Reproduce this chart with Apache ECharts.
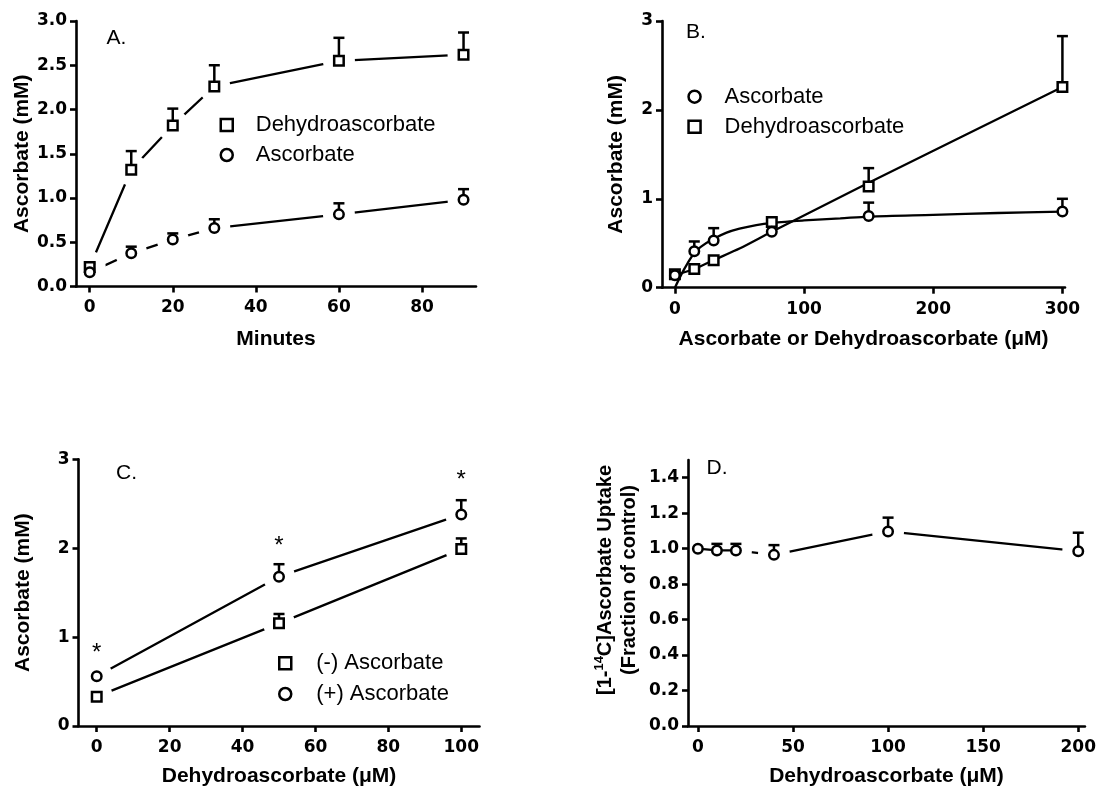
<!DOCTYPE html>
<html>
<head>
<meta charset="utf-8">
<script src="https://cdn.jsdelivr.net/npm/echarts@6/dist/echarts.min.js"></script>
<style>html,body{margin:0;padding:0;background:#fff}#c{width:1099px;height:791px}</style>
</head>
<body>
<div id="c"></div>
<script>
// ---------- Panel A: time course ----------
const A_minutes = [0, 10, 20, 30, 60, 90];
const A_dha = [0.22, 1.32, 1.82, 2.26, 2.55, 2.62];
const A_dhaErr = [0.26, 1.53, 2.01, 2.50, 2.81, 2.87];
const A_asc = [0.16, 0.375, 0.53, 0.66, 0.815, 0.98];
const A_ascErr = [0.20, 0.45, 0.60, 0.76, 0.94, 1.10];
const A_xTicks = [0, 20, 40, 60, 80];
const A_yTicks = [0, 0.5, 1.0, 1.5, 2.0, 2.5, 3.0];

// ---------- Panel B: concentration dependence ----------
const B_conc = [0, 15, 30, 75, 150, 300];
const B_asc = [0.14, 0.41, 0.53, 0.63, 0.807, 0.856];
const B_ascErr = [0.14, 0.52, 0.67, 0.63, 0.957, 1.0];
const B_dha = [0.15, 0.21, 0.31, 0.74, 1.137, 2.257];
const B_dhaErr = [0.15, 0.21, 0.31, 0.78, 1.345, 2.83];
// fitted curves
const B_ascFitX = [0, 5, 10, 15, 20, 30, 40, 50, 63, 76, 89, 100, 128, 150, 200, 250, 300];
const B_ascFitY = [0, 0.15, 0.28, 0.39, 0.46, 0.55, 0.62, 0.665, 0.705, 0.73, 0.745, 0.757, 0.78, 0.80, 0.82, 0.84, 0.856];
const B_dhaFitX = [0, 15, 30, 50, 75, 150, 300];
const B_dhaFitY = [0.14, 0.21, 0.31, 0.44, 0.63, 1.18, 2.257];
const B_xTicks = [0, 100, 200, 300];
const B_yTicks = [0, 1, 2, 3];

// ---------- Panel C ----------
const C_dha = [0, 50, 100];
const C_minus = [0.33, 1.155, 1.99];
const C_minusErr = [0.33, 1.26, 2.11];
const C_plus = [0.56, 1.68, 2.38];
const C_plusErr = [0.56, 1.82, 2.54];
const C_star = [0.87, 2.08, 2.82];
const C_xTicks = [0, 20, 40, 60, 80, 100];
const C_yTicks = [0, 1, 2, 3];

// ---------- Panel D ----------
const D_dha = [0, 10, 20, 40, 100, 200];
const D_uptake = [1.0, 0.99, 0.99, 0.965, 1.097, 0.986];
const D_uptakeErr = [1.0, 1.027, 1.027, 1.02, 1.175, 1.09];
const D_xTicks = [0, 50, 100, 150, 200];
const D_yTicks = [0, 0.2, 0.4, 0.6, 0.8, 1.0, 1.2, 1.4];

const BLACK = '#000';
const TICKFONT = 'DejaVu Sans';
const TEXTFONT = 'Liberation Sans, Arial, sans-serif';
const AXW = 2.6;

function pairs(xs, ys) { return xs.map((x, i) => [x, ys[i]]); }
function triples(xs, ys, es) { return xs.map((x, i) => [x, ys[i], es[i]]); }

function xAxis(gi, min, max, ticks, name, gap) {
  return {
    type: 'value', gridIndex: gi, min: min, max: max, z: 5,
    name: name, nameLocation: 'middle', nameGap: gap,
    nameTextStyle: { fontFamily: TEXTFONT, fontWeight: 'bold', fontSize: 21, color: BLACK },
    axisLine: { show: true, onZero: false, lineStyle: { color: BLACK, width: AXW } },
    axisTick: { show: true, length: 6, customValues: ticks, lineStyle: { color: BLACK, width: AXW } },
    axisLabel: { customValues: ticks, margin: 13, fontFamily: TICKFONT, fontWeight: 'bold', fontSize: 17, color: BLACK },
    splitLine: { show: false }
  };
}
function yAxis(gi, min, max, ticks, name, gap, fmt, nameStyle) {
  return {
    type: 'value', gridIndex: gi, min: min, max: max, z: 5,
    name: name, nameLocation: 'middle', nameGap: gap,
    nameTextStyle: nameStyle || { fontFamily: TEXTFONT, fontWeight: 'bold', fontSize: 21, color: BLACK },
    axisLine: { show: true, onZero: false, lineStyle: { color: BLACK, width: AXW } },
    axisTick: { show: true, length: 6, customValues: ticks, lineStyle: { color: BLACK, width: AXW } },
    axisLabel: { customValues: ticks, margin: 9, fontFamily: TICKFONT, fontWeight: 'bold', fontSize: 17, color: BLACK,
      formatter: fmt || (v => String(v)) },
    splitLine: { show: false }
  };
}

function lineSeries(gi, data, smooth, z) {
  return { type: 'line', xAxisIndex: gi, yAxisIndex: gi, data: data, showSymbol: false, symbol: 'none',
    smooth: smooth || false, lineStyle: { color: BLACK, width: 2.3 }, z: z || 2, silent: true, animation: false };
}
function haloSeries(gi, data) {
  return { type: 'scatter', xAxisIndex: gi, yAxisIndex: gi, data: data, symbol: 'circle', symbolSize: 32,
    itemStyle: { color: '#fff', borderWidth: 0, opacity: 1 }, z: 3, silent: true, animation: false };
}
function errSeries(gi, data) {
  return { type: 'custom', xAxisIndex: gi, yAxisIndex: gi, data: data, z: 4, silent: true, animation: false,
    encode: { x: 0, y: [1, 2] },
    renderItem: function (params, api) {
      const x = api.value(0), y = api.value(1), t = api.value(2);
      if (!(t > y)) return null;
      const p = api.coord([x, y]), q = api.coord([x, t]);
      return { type: 'group', children: [
        { type: 'line', shape: { x1: p[0], y1: p[1], x2: q[0], y2: q[1] }, style: { stroke: BLACK, lineWidth: 2.5 } },
        { type: 'line', shape: { x1: q[0] - 5.5, y1: q[1], x2: q[0] + 5.5, y2: q[1] }, style: { stroke: BLACK, lineWidth: 2.5 } }
      ] };
    } };
}
function markSeries(gi, name, data, symbol) {
  return { type: 'scatter', name: name, xAxisIndex: gi, yAxisIndex: gi, data: data, symbol: symbol, symbolSize: 9.5,
    itemStyle: { color: '#fff', borderColor: BLACK, borderWidth: 2.5, opacity: 1 }, z: 6, animation: false };
}

const series = [
  // A
  lineSeries(0, pairs(A_minutes, A_dha)),
  lineSeries(0, pairs(A_minutes, A_asc)),
  haloSeries(0, pairs(A_minutes, A_dha)),
  haloSeries(0, pairs(A_minutes, A_asc)),
  errSeries(0, triples(A_minutes, A_dha, A_dhaErr)),
  errSeries(0, triples(A_minutes, A_asc, A_ascErr)),
  markSeries(0, 'Dehydroascorbate', pairs(A_minutes, A_dha), 'rect'),
  markSeries(0, 'Ascorbate', pairs(A_minutes, A_asc), 'circle'),
  // B
  lineSeries(1, pairs(B_ascFitX, B_ascFitY), 0.3),
  lineSeries(1, pairs(B_dhaFitX, B_dhaFitY), 0.2),
  errSeries(1, triples(B_conc, B_asc, B_ascErr)),
  errSeries(1, triples(B_conc, B_dha, B_dhaErr)),
  markSeries(1, 'Dehydroascorbate', pairs(B_conc, B_dha), 'rect'),
  markSeries(1, 'Ascorbate', pairs(B_conc, B_asc), 'circle'),
  // C
  lineSeries(2, pairs(C_dha, C_minus)),
  lineSeries(2, pairs(C_dha, C_plus)),
  haloSeries(2, pairs(C_dha, C_minus)),
  haloSeries(2, pairs(C_dha, C_plus)),
  errSeries(2, triples(C_dha, C_minus, C_minusErr)),
  errSeries(2, triples(C_dha, C_plus, C_plusErr)),
  markSeries(2, '(-) Ascorbate', pairs(C_dha, C_minus), 'rect'),
  markSeries(2, '(+) Ascorbate', pairs(C_dha, C_plus), 'circle'),
  { type: 'custom', xAxisIndex: 2, yAxisIndex: 2, data: pairs(C_dha, C_star), z: 6, silent: true, animation: false,
    encode: { x: 0, y: 1 },
    renderItem: function (params, api) {
      const p = api.coord([api.value(0), api.value(1)]);
      return { type: 'text', x: p[0], y: p[1] + 5,
        style: { text: '*', fontSize: 24, fontFamily: TEXTFONT, fill: BLACK, textAlign: 'center', textVerticalAlign: 'middle' } };
    } },
  // D
  lineSeries(3, pairs(D_dha.slice(2), D_uptake.slice(2))),
  haloSeries(3, pairs(D_dha, D_uptake)),
  lineSeries(3, pairs(D_dha.slice(0, 3), D_uptake.slice(0, 3)), false, 3.5),
  errSeries(3, triples(D_dha, D_uptake, D_uptakeErr)),
  markSeries(3, 'Uptake', pairs(D_dha, D_uptake), 'circle')
];

function legend(left, top, names, spacer, gap) {
  return {
    orient: 'vertical', left: left, top: top, padding: 0, itemGap: gap, itemWidth: 12, itemHeight: 12,
    data: names, selectedMode: false,
    itemStyle: { color: '#fff', borderColor: BLACK, borderWidth: 2.5 },
    formatter: n => '{s|}' + n,
    textStyle: { fontFamily: TEXTFONT, fontSize: 22, color: BLACK, lineHeight: 22,
      rich: { s: { width: spacer, lineHeight: 22 } } }
  };
}
function letter(t, left, top) {
  return { text: t, left: left, top: top, padding: 0,
    textStyle: { fontFamily: TEXTFONT, fontWeight: 'normal', fontSize: 21, color: BLACK } };
}

const option = {
  backgroundColor: '#fff',
  animation: false,
  title: [letter('A.', 106.5, 28), letter('B.', 686, 21.5), letter('C.', 116, 463), letter('D.', 706.5, 458)],
  legend: [
    legend(219.5, 114, ['Dehydroascorbate', 'Ascorbate'], 18, 8),
    legend(687.3, 85.7, ['Ascorbate', 'Dehydroascorbate'], 19, 8),
    legend(278, 652.3, ['(-) Ascorbate', '(+) Ascorbate'], 20, 8.7)
  ],
  grid: [
    { left: 76, top: 21, width: 400, height: 265.5 },
    { left: 662, top: 21, width: 403, height: 266.7 },
    { left: 78.5, top: 459.3, width: 401, height: 266.7 },
    { left: 688, top: 460, width: 399, height: 266 }
  ],
  xAxis: [
    xAxis(0, -3.3, 93, A_xTicks, 'Minutes', 42),
    xAxis(1, -10, 302, B_xTicks, 'Ascorbate or Dehydroascorbate (\u03bcM)', 41),
    xAxis(2, -5, 105, C_xTicks, 'Dehydroascorbate (\u03bcM)', 40),
    xAxis(3, -5.2, 203.5, D_xTicks, 'Dehydroascorbate (\u03bcM)', 40)
  ],
  yAxis: [
    yAxis(0, 0, 3, A_yTicks, 'Ascorbate (mM)', 43, v => v.toFixed(1)),
    yAxis(1, 0, 3, B_yTicks, 'Ascorbate (mM)', 35),
    yAxis(2, 0, 3, C_yTicks, 'Ascorbate (mM)', 45),
    yAxis(3, 0, 1.5, D_yTicks, '{m|[1-}{sup|14}{m|C]Ascorbate Uptake}\n{m|(Fraction of control)}', 47, v => v.toFixed(1),
      { fontFamily: TEXTFONT, fontWeight: 'bold', fontSize: 20, color: BLACK, lineHeight: 24, padding: [0, 0, 0, 26],
        rich: {
          m: { fontFamily: TEXTFONT, fontWeight: 'bold', fontSize: 20, color: BLACK, lineHeight: 24 },
          sup: { fontFamily: TEXTFONT, fontWeight: 'bold', fontSize: 13, color: BLACK, lineHeight: 14, verticalAlign: 'top' }
        } })
  ],
  series: series
};

const chart = echarts.init(document.getElementById('c'), null, { renderer: 'canvas' });
chart.setOption(option);
</script>
</body>
</html>
